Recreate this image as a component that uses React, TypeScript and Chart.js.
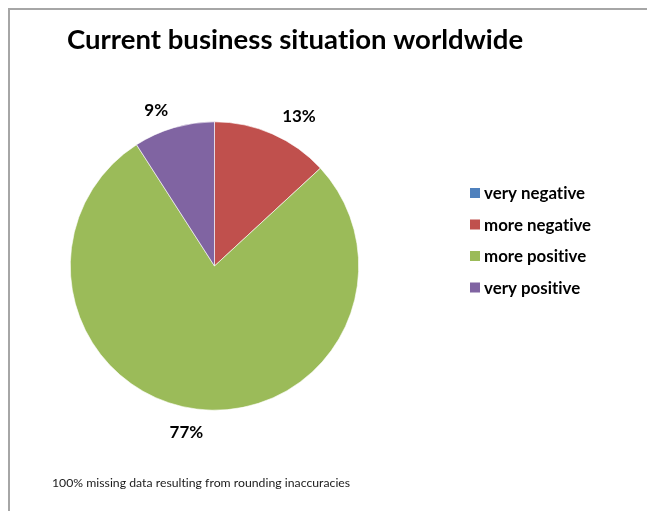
import React, { useEffect, useRef } from 'react';
import { Chart, registerables } from 'chart.js';

Chart.register(...registerables);

const categories = ['very negative', 'more negative', 'more positive', 'very positive'];
const shares = [0, 13, 77, 9];
const sliceColors = ['#4F81BD', '#C0504D', '#9BBB59', '#8064A2'];
const chartTitle = 'Current business situation worldwide';
const footnote = '100% missing data resulting from rounding inaccuracies';

const FAMILY = 'Lato, "Open Sans", sans-serif';

function fitSize(ctx: CanvasRenderingContext2D, text: string, weight: string, target: number) {
  ctx.font = `${weight} 100px ${FAMILY}`;
  const w = ctx.measureText(text).width;
  return (100 * target) / w;
}

const clamp = (v: number) => Math.max(-1, Math.min(1, v));

const decorPlugin = {
  id: 'decor',
  beforeDraw(chart: any) {
    const ctx = chart.ctx as CanvasRenderingContext2D;
    ctx.save();
    ctx.fillStyle = '#ffffff';
    ctx.fillRect(0, 0, chart.width, chart.height);
    ctx.fillStyle = '#a6a6a6';
    ctx.fillRect(8, 8, chart.width - 8, 2);
    ctx.fillRect(8, 8, 2, chart.height - 8);
    ctx.restore();
  },
  afterDraw(chart: any) {
    const ctx = chart.ctx as CanvasRenderingContext2D;
    ctx.save();
    (ctx as any).letterSpacing = '0.01px';
    ctx.fillStyle = '#000000';
    ctx.textBaseline = 'alphabetic';
    ctx.textAlign = 'left';

    // title
    const ts = fitSize(ctx, chartTitle, 'bold', 456);
    ctx.font = `bold ${ts}px ${FAMILY}`;
    ctx.fillText(chartTitle, 67, 49);

    // footnote
    const fs = fitSize(ctx, footnote, 'normal', 298);
    ctx.font = `normal ${fs}px ${FAMILY}`;
    ctx.fillStyle = '#1a1a1a';
    ctx.fillText(footnote, 52, 487);

    // legend
    const labels: string[] = chart.data.labels;
    const colors: string[] = chart.data.datasets[0].backgroundColor;
    const ls = fitSize(ctx, labels[0], 'bold', 101);
    ctx.font = `bold ${ls}px ${FAMILY}`;
    ctx.textBaseline = 'middle';
    labels.forEach((lab, i) => {
      const cy = 193 + i * 31.5;
      ctx.fillStyle = colors[i];
      ctx.fillRect(470, cy - 5, 10, 10);
      ctx.fillStyle = '#000000';
      ctx.fillText(lab, 484, cy + 1);
    });

    // data labels
    const meta = chart.getDatasetMeta(0);
    const data: number[] = chart.data.datasets[0].data;
    ctx.font = `bold 17px ${FAMILY}`;
    ctx.textAlign = 'center';
    ctx.textBaseline = 'middle';
    meta.data.forEach((arc: any, i: number) => {
      const v = data[i];
      if (!v) return;
      const { x, y, startAngle, endAngle, outerRadius } = arc.getProps(
        ['x', 'y', 'startAngle', 'endAngle', 'outerRadius'],
        true
      );
      const mid = (startAngle + endAngle) / 2;
      const dx = Math.cos(mid);
      const dy = Math.sin(mid);
      const r = outerRadius + 12;
      const text = `${v}%`;
      const w = ctx.measureText(text).width;
      const h = 18;
      const cx = x + dx * r + (w / 2 + 5) * clamp(dx * 3);
      const cy = y + dy * r + (h / 2) * clamp(dy * 3) + 3;
      ctx.fillStyle = '#000000';
      ctx.fillText(text, cx, cy);
    });
    ctx.restore();
  },
};

export default function App() {
  const ref = useRef<HTMLCanvasElement | null>(null);
  useEffect(() => {
    if (!ref.current) return;
    const chart = new Chart(ref.current, {
      type: 'pie',
      data: {
        labels: categories,
        datasets: [
          {
            data: shares,
            backgroundColor: sliceColors,
            borderColor: '#ffffff',
            borderWidth: 0.6,
          },
        ],
      },
      options: {
        responsive: false,
        animation: false,
        events: [],
        layout: { padding: { left: 70, top: 121, right: 288, bottom: 100 } },
        plugins: {
          legend: { display: false },
          title: { display: false },
          tooltip: { enabled: false },
        },
      },
      plugins: [decorPlugin],
    });
    return () => chart.destroy();
  }, []);
  return (
    <div style={{ position: 'fixed', left: 0, top: 0, width: 647, height: 511, background: '#fff' }}>
      <canvas ref={ref} width={647} height={511} style={{ display: 'block' }} />
    </div>
  );
}
